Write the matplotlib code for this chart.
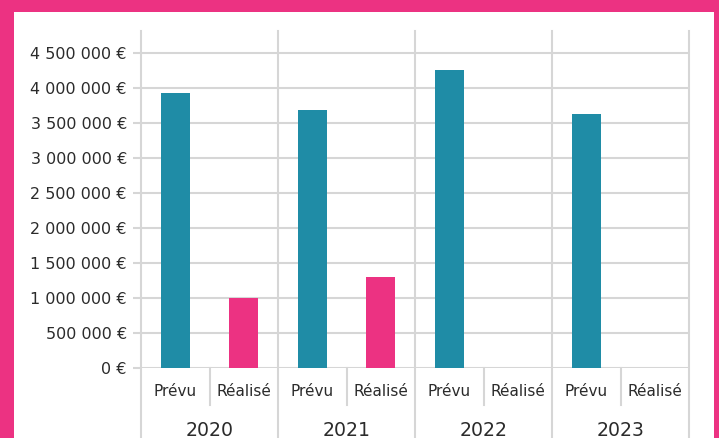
import matplotlib.pyplot as plt
from matplotlib.patches import Rectangle
from matplotlib.ticker import FuncFormatter, MultipleLocator

# data
years = ["2020", "2021", "2022", "2023"]
categories = ["Prévu", "Réalisé"]
prevu = [3940000, 3690000, 4265000, 3635000]
realise = [1000000, 1305000, 0, 0]

PINK = "#EC3282"
TEAL = "#1F8CA6"
GRID = "#D6D6D6"
TEXT = "#2B2B2B"

plt.rcParams["font.family"] = ["DejaVu Sans"]

W, H = 719, 438
fig = plt.figure(figsize=(W / 100, H / 100), dpi=100, facecolor=PINK)
# white card inside the pink frame
fig.add_artist(Rectangle((14 / W, 0), 700 / W, 426 / H, transform=fig.transFigure,
                         facecolor="white", edgecolor="none", zorder=-10))

ax = fig.add_axes([141 / W, 70 / H, 548 / W, 337 / H])
ax.set_facecolor("none")

xp = [2 * i for i in range(len(years))]
xr = [2 * i + 1 for i in range(len(years))]
ax.bar(xp, prevu, width=0.42, color=TEAL, zorder=3)
ax.bar(xr, realise, width=0.42, color=PINK, zorder=3)

ax.set_xlim(-0.5, 2 * len(years) - 0.5)
ax.set_ylim(0, 4.82e6)
ax.yaxis.set_major_locator(MultipleLocator(500000))
ax.yaxis.set_major_formatter(FuncFormatter(lambda v, p: f"{v:,.0f}".replace(",", " ") + " €"))
ax.set_yticks([v for v in ax.get_yticks() if 0 <= v <= 4.5e6])
ax.grid(axis="y", color=GRID, linewidth=1.5, zorder=1)
ax.tick_params(axis="y", length=5.8, width=1.5, color=GRID, labelsize=11.5,
               labelcolor=TEXT, pad=4.3)
ax.set_xticks([])
for s in ax.spines.values():
    s.set_visible(False)

# year separators (full height) and category separators (label row only)
bottom_frac = (H - 368.3) / 337.3
for i in range(len(years) + 1):
    ax.axvline(2 * i - 0.5, ymin=-bottom_frac - 0.01, ymax=1, color=GRID,
               linewidth=1.5, clip_on=False, zorder=2)
for i in range(len(years)):
    ax.axvline(2 * i + 0.5, ymin=-0.109, ymax=0, color=GRID,
               linewidth=1.5, clip_on=False, zorder=2)

tr = ax.get_xaxis_transform()
for i, y in enumerate(years):
    for j, c in enumerate(categories):
        ax.text(2 * i + j, -0.070, c, transform=tr, ha="center", va="center",
                fontsize=11, color=TEXT)
    ax.text(2 * i + 0.5, -0.158, y, transform=tr, ha="center", va="top",
            fontsize=13.6, color=TEXT)

fig.savefig("out.png", dpi=100, facecolor=PINK)
